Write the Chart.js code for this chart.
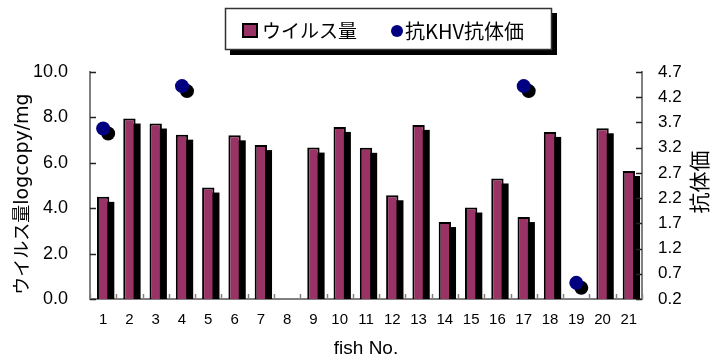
<!DOCTYPE html>
<html>
<head>
<meta charset="utf-8">
<script src="https://cdn.jsdelivr.net/npm/chart.js@4/dist/chart.umd.min.js"></script>
<style>
  body { margin: 0; background: #fff; }
  #wrap { width: 710px; height: 358px; }
</style>
</head>
<body>
<div id="wrap"><canvas id="canvasVirus" width="710" height="358"></canvas></div>
<script>
// data
var fishNo = ['1', '2', '3', '4', '5', '6', '7', '8', '9', '10', '11',
  '12', '13', '14', '15', '16', '17', '18', '19', '20', '21'];
var virusLoad = [4.50, 7.95, 7.73, 7.24, 4.91, 7.21, 6.78, null, 6.67, 7.58, 6.66,
  4.57, 7.67, 3.39, 4.03, 5.31, 3.61, 7.36, null, 7.52, 5.64];
var antibody = [3.58, null, null, 4.42, null, null, null, null, null, null, null,
  null, null, null, null, null, 4.42, null, 0.52, null, null];
var leftTicks = [0, 2, 4, 6, 8, 10];
var rightTicks = [0.2, 0.7, 1.2, 1.7, 2.2, 2.7, 3.2, 3.7, 4.2, 4.7];

var labelVirus = 'ウイルス量';
var labelAb = '抗KHV抗体価';
var titleLeftBig = 'ウイルス量';
var titleLeftSmall = 'logcopy/mg';
var titleRight = '抗体価';
var titleX = 'fish No.';

var FONT = "'Liberation Sans', 'Noto Sans CJK JP', sans-serif";
var CJK = "'Noto Sans CJK JP', 'Liberation Sans', sans-serif";
var PURPLE = '#993366';
var NAVY = '#000080';

// black drop shadow behind bars and points (offset from the drawn elements)
var shadowPlugin = {
  id: 'shadow',
  beforeDatasetDraw: function (chart, args) {
    var ctx = chart.ctx;
    var area = chart.chartArea;
    var meta = args.meta;
    var values = chart.data.datasets[args.index].data;
    ctx.save();
    ctx.beginPath();
    ctx.rect(area.left, area.top - 20, area.right - area.left, area.bottom - area.top + 20);
    ctx.clip();
    ctx.fillStyle = '#000';
    meta.data.forEach(function (el, i) {
      if (values[i] === null) return;
      var p = el.getProps(['x', 'y', 'base', 'width'], true);
      if (!isFinite(p.y) || !isFinite(p.x)) return;
      if (meta.type === 'bar') {
        if (p.base - p.y <= 5) return;
        ctx.fillRect(p.x - p.width / 2 + 5, p.y + 5, p.width, p.base - p.y - 5);
      } else {
        ctx.beginPath();
        ctx.arc(p.x + 5, p.y + 5, 7, 0, Math.PI * 2);
        ctx.fill();
      }
    });
    ctx.restore();
  }
};

// inward tick marks, titles and the framed legend
var decoPlugin = {
  id: 'deco',
  afterDraw: function (chart) {
    var ctx = chart.ctx;
    var a = chart.chartArea;
    var y = chart.scales.y, y2 = chart.scales.y2, x = chart.scales.x;
    ctx.save();
    ctx.lineWidth = 1.5;
    ctx.strokeStyle = '#222';
    leftTicks.forEach(function (v) {
      var py = Math.round(y.getPixelForValue(v)) + 0.5;
      ctx.beginPath(); ctx.moveTo(a.left, py); ctx.lineTo(a.left + 6, py); ctx.stroke();
    });
    rightTicks.forEach(function (v) {
      var py = Math.round(y2.getPixelForValue(v)) + 0.5;
      ctx.beginPath(); ctx.moveTo(a.right - 6, py); ctx.lineTo(a.right, py); ctx.stroke();
    });
    ctx.strokeStyle = '#808080';
    for (var i = 0; i <= fishNo.length; i++) {
      var px = Math.round(x.getPixelForValue(i - 0.5)) + 0.5;
      ctx.beginPath(); ctx.moveTo(px, a.bottom); ctx.lineTo(px, a.bottom - 5); ctx.stroke();
    }

    // left axis title, two sizes
    ctx.fillStyle = '#000';
    ctx.textBaseline = 'alphabetic';
    ctx.textAlign = 'left';
    var bigFont = '18px ' + CJK;
    var smallFont = "19px 'DejaVu Sans', sans-serif";
    ctx.font = bigFont;
    var w1 = ctx.measureText(titleLeftBig).width;
    ctx.font = smallFont;
    var w2 = ctx.measureText(titleLeftSmall).width;
    ctx.translate(28, 194);
    ctx.rotate(-Math.PI / 2);
    ctx.font = bigFont;
    ctx.fillText(titleLeftBig, -(w1 + w2) / 2, 0);
    ctx.font = smallFont;
    ctx.fillText(titleLeftSmall, -(w1 + w2) / 2 + w1, 0);
    ctx.setTransform(1, 0, 0, 1, 0, 0);

    // right axis title
    ctx.translate(699, 182);
    ctx.rotate(-Math.PI / 2);
    ctx.textAlign = 'center';
    ctx.textBaseline = 'middle';
    ctx.font = '21px ' + CJK;
    ctx.fillText(titleRight, 0, 0);
    ctx.setTransform(1, 0, 0, 1, 0, 0);

    // legend
    ctx.fillStyle = '#000';
    ctx.fillRect(230, 13, 327, 42);
    ctx.fillStyle = '#fff';
    ctx.fillRect(225, 8, 327, 42);
    ctx.lineWidth = 1.5;
    ctx.strokeStyle = '#333';
    ctx.strokeRect(225.5, 8.5, 326, 41);
    ctx.fillStyle = PURPLE;
    ctx.fillRect(243, 24, 14, 13);
    ctx.lineWidth = 2;
    ctx.strokeStyle = '#000';
    ctx.strokeRect(243, 24, 14, 13);
    ctx.fillStyle = NAVY;
    ctx.beginPath(); ctx.arc(397, 31, 6, 0, Math.PI * 2); ctx.fill();
    ctx.fillStyle = '#000';
    ctx.textAlign = 'left';
    ctx.textBaseline = 'middle';
    ctx.font = '19px ' + CJK;
    ctx.fillText(chart.data.datasets[1].label, 262, 31);
    ctx.font = '20px ' + CJK;
    ctx.fillText(chart.data.datasets[0].label, 405, 31);
    ctx.restore();
  }
};

var ctx = document.getElementById('canvasVirus').getContext('2d');
var chart = new Chart(ctx, {
  type: 'bar',
  data: {
    labels: fishNo,
    datasets: [
      {
        type: 'line',
        label: labelAb,
        data: antibody,
        yAxisID: 'y2',
        showLine: false,
        pointRadius: 7,
        pointBorderWidth: 0,
        pointBackgroundColor: NAVY,
        backgroundColor: NAVY,
        borderColor: NAVY,
        order: 0
      },
      {
        label: labelVirus,
        data: virusLoad,
        yAxisID: 'y',
        backgroundColor: PURPLE,
        borderColor: '#000',
        borderWidth: 2,
        barPercentage: 0.47,
        categoryPercentage: 1,
        order: 1
      }
    ]
  },
  options: {
    responsive: false,
    animation: false,
    layout: { padding: { top: 72, left: 0, right: 0, bottom: 0 } },
    plugins: {
      legend: { display: false },
      tooltip: { enabled: false }
    },
    scales: {
      x: {
        offset: true,
        grid: { display: false, drawTicks: false },
        border: { display: true, color: '#808080', width: 2 },
        ticks: { font: { family: FONT, size: 15 }, color: '#000', padding: 12, maxRotation: 0, autoSkip: false },
        title: { display: true, text: titleX, font: { family: FONT, size: 19, lineHeight: 1 }, color: '#000', padding: 0 },
        afterFit: function (s) { s.height = 59; }
      },
      y: {
        position: 'left',
        min: 0, max: 10,
        grid: { display: false, drawTicks: false },
        border: { display: true, color: '#808080', width: 2 },
        ticks: {
          stepSize: 2, padding: 22, color: '#000',
          font: { family: FONT, size: 18 },
          callback: function (v) { return Number(v).toFixed(1); }
        },
        afterFit: function (s) { s.width = 90; }
      },
      y2: {
        position: 'right',
        min: 0.2, max: 4.7,
        grid: { display: false, drawTicks: false },
        border: { display: true, color: '#808080', width: 2 },
        ticks: {
          stepSize: 0.5, padding: 16, color: '#000',
          font: { family: FONT, size: 17 },
          callback: function (v) { return Number(v).toFixed(1); }
        },
        afterFit: function (s) { s.width = 68; }
      }
    }
  },
  plugins: [shadowPlugin, decoPlugin]
});
</script>
</body>
</html>
